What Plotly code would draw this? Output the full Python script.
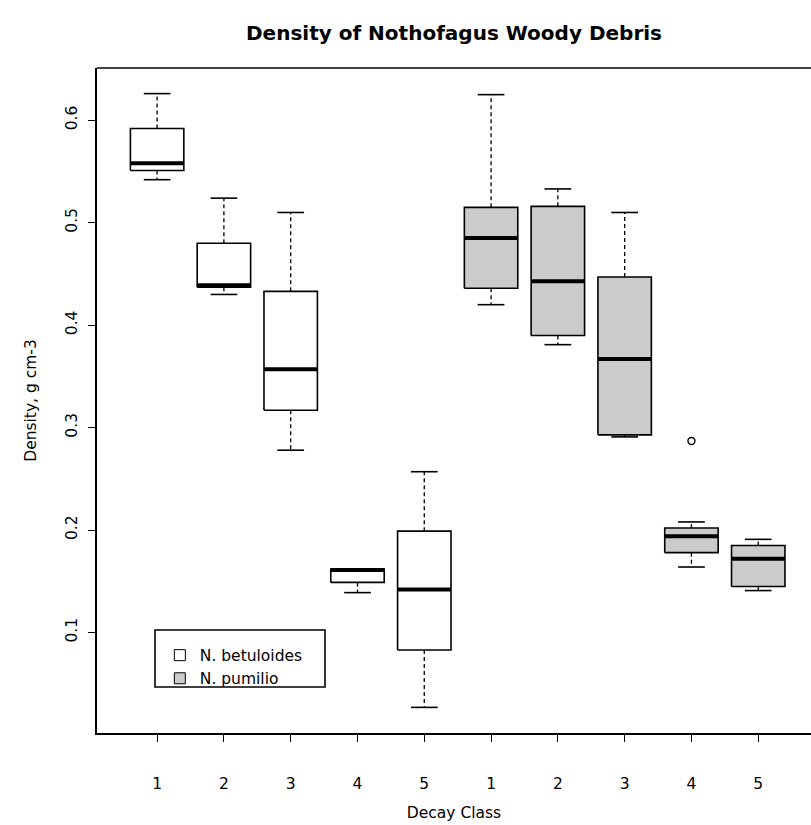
import plotly.graph_objects as go

# Decay classes and species
classes = ["1", "2", "3", "4", "5"]
species = ["N. betuloides", "N. pumilio"]

# Five-number summaries of wood density (g cm-3) per decay class
betuloides_lower = [0.542, 0.430, 0.278, 0.139, 0.027]
betuloides_q1 = [0.551, 0.437, 0.317, 0.149, 0.083]
betuloides_median = [0.558, 0.439, 0.357, 0.161, 0.142]
betuloides_q3 = [0.592, 0.480, 0.433, 0.162, 0.199]
betuloides_upper = [0.626, 0.524, 0.510, 0.162, 0.257]

pumilio_lower = [0.420, 0.381, 0.291, 0.164, 0.141]
pumilio_q1 = [0.436, 0.390, 0.293, 0.178, 0.145]
pumilio_median = [0.485, 0.443, 0.367, 0.194, 0.172]
pumilio_q3 = [0.515, 0.516, 0.447, 0.202, 0.185]
pumilio_upper = [0.625, 0.533, 0.510, 0.208, 0.191]

# Outlying observations (decay class, density)
pumilio_outlier_class = ["4"]
pumilio_outlier_value = [0.287]

y_ticks = [0.1, 0.2, 0.3, 0.4, 0.5, 0.6]

FILL = {"N. betuloides": "white", "N. pumilio": "#cbcbcb"}
HALF_BOX = 0.4
HALF_STAPLE = 0.2

groups = [
    ("N. betuloides", betuloides_lower, betuloides_q1, betuloides_median,
     betuloides_q3, betuloides_upper),
    ("N. pumilio", pumilio_lower, pumilio_q1, pumilio_median,
     pumilio_q3, pumilio_upper),
]

fig = go.Figure()

for gi, (name, lo, q1, med, q3, up) in enumerate(groups):
    pos = [gi * len(classes) + i + 1 for i in range(len(classes))]

    wx, wy = [], []
    bx, by = [], []
    sx, sy = [], []
    mx, my = [], []
    for p, a, b, m, c, d in zip(pos, lo, q1, med, q3, up):
        wx += [p, p, None, p, p, None]
        wy += [c, d, None, b, a, None]
        bx += [p - HALF_BOX, p + HALF_BOX, p + HALF_BOX, p - HALF_BOX, p - HALF_BOX, None]
        by += [b, b, c, c, b, None]
        sx += [p - HALF_STAPLE, p + HALF_STAPLE, None, p - HALF_STAPLE, p + HALF_STAPLE, None]
        sy += [a, a, None, d, d, None]
        mx += [p - HALF_BOX, p + HALF_BOX, None]
        my += [m, m, None]

    # dashed whiskers
    fig.add_trace(go.Scatter(x=wx, y=wy, mode="lines", showlegend=False,
                             line=dict(color="black", width=1.3, dash="4px,3px"),
                             hoverinfo="skip"))
    # interquartile boxes
    fig.add_trace(go.Scatter(x=bx, y=by, mode="lines", fill="toself",
                             fillcolor=FILL[name], showlegend=False,
                             line=dict(color="black", width=1.6),
                             hoverinfo="skip"))
    # whisker end staples
    fig.add_trace(go.Scatter(x=sx, y=sy, mode="lines", showlegend=False,
                             line=dict(color="black", width=1.6),
                             hoverinfo="skip"))
    # medians
    fig.add_trace(go.Scatter(x=mx, y=my, mode="lines", showlegend=False,
                             line=dict(color="black", width=4),
                             hoverinfo="skip"))

# outliers
out_x = [len(classes) + classes.index(c) + 1 for c in pumilio_outlier_class]
fig.add_trace(go.Scatter(x=out_x, y=pumilio_outlier_value, mode="markers",
                         showlegend=False,
                         marker=dict(symbol="circle-open", size=7, color="black",
                                     line=dict(width=1.4))))

# legend keys
for name in species:
    fig.add_trace(go.Scatter(x=[None], y=[None], mode="markers", name=name,
                             marker=dict(symbol="square", size=11, color=FILL[name],
                                         line=dict(color="black", width=1))))

font_family = "DejaVu Sans, Verdana, sans-serif"

fig.update_layout(
    width=811,
    height=825,
    margin=dict(l=97, r=0, t=68, b=92),
    paper_bgcolor="white",
    plot_bgcolor="white",
    font=dict(family=font_family, color="black", size=15.5),
    title=dict(text="<b>Density of Nothofagus Woody Debris</b>",
               x=0.5, xref="paper", xanchor="center",
               y=1 - 33 / 825, yref="container", yanchor="middle",
               font=dict(size=20, family=font_family)),
    xaxis=dict(
        range=[0.1, 10.79],
        tickvals=list(range(1, 2 * len(classes) + 1)),
        ticktext=classes * 2,
        showline=True, linecolor="black", linewidth=1.6,
        ticks="outside", ticklen=7, tickwidth=1.3, tickcolor="black",
        ticklabelstandoff=29,
        showgrid=False, zeroline=False,
        title=dict(text="Decay Class", standoff=15, font=dict(size=15.5)),
    ),
    yaxis=dict(
        range=[0.002, 0.651],
        tickvals=y_ticks,
        ticktext=[f"{v:.1f}" for v in y_ticks],
        tickangle=-90,
        showline=True, linecolor="black", linewidth=1.6,
        ticks="outside", ticklen=7, tickwidth=1.3, tickcolor="black",
        ticklabelstandoff=5,
        showgrid=False, zeroline=False,
        title=dict(text="Density, g cm-3", standoff=23, font=dict(size=15.5)),
    ),
    legend=dict(
        x=0.088, y=0.142, xanchor="left", yanchor="top",
        bgcolor="rgba(0,0,0,0)", borderwidth=0,
        font=dict(size=15.5), tracegroupgap=0,
    ),
    shapes=[
        # upper edge of the plot frame
        dict(type="line", xref="paper", yref="paper", x0=0, x1=1, y0=1, y1=1,
             line=dict(color="black", width=1.6)),
        # legend frame
        dict(type="rect", xref="paper", yref="paper",
             x0=(155 - 97) / 714, x1=(325 - 97) / 714,
             y0=(733 - 687) / 665, y1=(733 - 630) / 665,
             line=dict(color="black", width=1.6), fillcolor="rgba(0,0,0,0)"),
    ],
)

fig.write_html("out.html")
